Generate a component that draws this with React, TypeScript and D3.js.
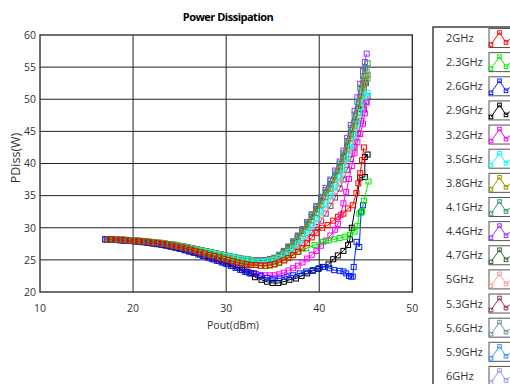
import React from 'react';
import * as d3 from 'd3';

const TITLE = 'Power Dissipation';
const X_LABEL = 'Pout(dBm)';
const Y_LABEL = 'PDiss(W)';
const X_TICKS = [10, 20, 30, 40, 50];
const Y_TICKS = [20, 25, 30, 35, 40, 45, 50, 55, 60];

const SERIES_NAMES = ['2GHz', '2.3GHz', '2.6GHz', '2.9GHz', '3.2GHz', '3.5GHz', '3.8GHz', '4.1GHz', '4.4GHz', '4.7GHz', '5GHz', '5.3GHz', '5.6GHz', '5.9GHz', '6GHz'];
const SERIES_COLORS = ['#ff0000', '#00ee00', '#0022ff', '#000000', '#ff00ff', '#00ffff', '#999900', '#339966', '#9933ff', '#336633', '#ff9999', '#993366', '#669999', '#3399ff', '#9999ff'];

// Shared low-power Pout sweeps (dBm)
const LOW_X_A = [17.0, 17.5, 18.0, 18.5, 19.0, 19.5, 20.0, 20.5, 21.0, 21.5, 22.0, 22.5, 23.0, 23.5, 24.0, 24.5, 25.0, 25.5, 26.0, 26.5, 27.0, 27.5, 28.0, 28.5, 29.0, 29.5, 30.0, 30.5, 31.0, 31.5, 32.0, 32.5];
const LOW_X_B = [17.2, 17.7, 18.2, 18.7, 19.2, 19.7, 20.2, 20.7, 21.2, 21.7, 22.2, 22.7, 23.2, 23.7, 24.2, 24.7, 25.2, 25.7, 26.2, 26.7, 27.2, 27.7, 28.2, 28.7, 29.2, 29.7, 30.2, 30.7, 31.2, 31.7, 32.2, 32.7];
const LOW_X_C = [17.4, 17.9, 18.4, 18.9, 19.4, 19.9, 20.4, 20.9, 21.4, 21.9, 22.4, 22.9, 23.4, 23.9, 24.4, 24.9, 25.4, 25.9, 26.4, 26.9, 27.4, 27.9, 28.4, 28.9, 29.4, 29.9, 30.4, 30.9, 31.4, 31.9, 32.4, 32.9];

// Low-power Pdiss (W)
const LOW_UP = [28.2, 28.2, 28.15, 28.15, 28.1, 28.05, 28.0, 27.95, 27.9, 27.8, 27.75, 27.65, 27.55, 27.45, 27.35, 27.2, 27.1, 26.95, 26.8, 26.65, 26.5, 26.35, 26.2, 26.05, 25.9, 25.75, 25.6, 25.45, 25.3, 25.15, 25.05, 24.95];
const LOW_MID = [28.2, 28.2, 28.15, 28.1, 28.05, 28.0, 27.95, 27.9, 27.85, 27.75, 27.7, 27.6, 27.5, 27.4, 27.25, 27.1, 26.95, 26.8, 26.6, 26.4, 26.2, 26.0, 25.8, 25.6, 25.4, 25.2, 25.0, 24.8, 24.6, 24.45, 24.3, 24.2];
const LOW_DEEP = [28.2, 28.15, 28.1, 28.05, 28.0, 27.95, 27.9, 27.85, 27.75, 27.65, 27.55, 27.45, 27.35, 27.2, 27.05, 26.9, 26.7, 26.5, 26.3, 26.1, 25.85, 25.6, 25.35, 25.1, 24.85, 24.6, 24.35, 24.05, 23.75, 23.45, 23.15, 22.9];

// High-power tails per frequency
const T2_0_X = [33.2, 33.7, 34.2, 34.7, 35.2, 35.7, 36.2, 36.7, 37.2, 37.7, 38.2, 38.7, 39.2, 39.7, 40.3, 40.9, 41.5, 42.0, 42.6, 43.1, 43.6, 44.0, 44.2, 44.4, 44.6, 44.8];
const T2_0_Y = [24.2, 24.1, 24.1, 24.2, 24.35, 24.6, 24.9, 25.3, 25.75, 26.25, 26.8, 27.6, 28.5, 29.2, 30.0, 30.4, 31.1, 31.7, 32.2, 33.0, 33.5, 35.4, 36.9, 38.5, 40.5, 42.5];
const T2_3_X = [33.2, 33.7, 34.2, 34.7, 35.2, 35.7, 36.3, 37.0, 37.8, 38.6, 39.5, 40.4, 41.0, 41.6, 42.2, 42.8, 43.3, 43.8, 44.1, 44.3, 44.6, 44.8, 45.3];
const T2_3_Y = [24.2, 24.05, 24.0, 24.1, 24.25, 24.5, 25.0, 25.7, 26.3, 26.8, 27.3, 27.8, 28.0, 28.2, 28.4, 28.6, 28.9, 29.4, 30.3, 32.2, 32.6, 34.2, 37.2];
const T2_6_X = [33.0, 33.7, 34.4, 35.0, 35.75, 36.5, 37.2, 37.9, 38.6, 39.3, 40.0, 40.6, 41.1, 41.6, 42.2, 42.6, 42.9, 43.2, 43.4, 43.6, 43.7, 44.0, 44.3, 44.5, 44.7];
const T2_6_Y = [22.9, 22.5, 22.2, 22.0, 22.1, 22.4, 22.6, 22.9, 23.2, 23.4, 23.7, 23.9, 23.7, 23.4, 23.3, 23.2, 22.9, 22.5, 22.4, 22.4, 23.9, 27.8, 27.0, 32.4, 33.5];
const T2_9_X = [33.1, 33.8, 34.4, 35.0, 35.6, 36.2, 36.8, 37.5, 38.1, 38.7, 39.3, 39.9, 40.4, 41.0, 41.5, 42.0, 42.6, 43.1, 43.3, 43.5, 44.4, 44.9, 44.9, 45.2];
const T2_9_Y = [22.3, 21.9, 21.6, 21.4, 21.4, 21.6, 21.9, 22.1, 22.5, 22.9, 23.3, 23.6, 23.9, 24.3, 25.1, 25.7, 26.4, 27.3, 28.2, 30.0, 37.8, 37.9, 41.0, 41.4];
const T3_2_X = [33.2, 33.7, 34.2, 34.7, 35.2, 35.7, 36.2, 36.7, 37.2, 37.7, 38.2, 38.7, 39.2, 39.7, 40.2, 40.7, 41.2, 41.7, 42.0, 42.3, 42.6, 42.9, 43.2, 43.5, 43.8, 44.1, 44.4, 44.7, 44.9, 45.1];
const T3_2_Y = [22.8, 22.65, 22.6, 22.6, 22.6, 22.75, 23.0, 23.35, 23.7, 24.1, 24.6, 25.2, 25.8, 26.4, 27.2, 28.0, 28.8, 29.7, 30.6, 32.0, 33.8, 35.6, 37.6, 39.6, 41.6, 43.3, 44.6, 46.2, 47.8, 49.5];
const T3_5_X = [33.2, 33.7, 34.2, 34.7, 35.2, 35.7, 36.2, 36.7, 37.2, 37.7, 38.2, 38.7, 39.2, 39.7, 40.2, 40.7, 41.2, 41.7, 42.2, 42.6, 43.0, 43.4, 43.8, 44.2, 44.5, 44.8, 45.0, 45.2];
const T3_5_Y = [24.7, 24.7, 24.75, 24.85, 25.0, 25.3, 25.7, 26.2, 26.8, 27.5, 28.3, 29.2, 30.2, 31.3, 32.4, 33.6, 34.9, 36.3, 37.8, 39.2, 40.8, 42.5, 44.3, 46.2, 48.0, 49.6, 50.5, 51.0];
const T3_8_X = [33.2, 33.7, 34.2, 34.7, 35.2, 35.7, 36.2, 36.7, 37.2, 37.7, 38.2, 38.7, 39.2, 39.7, 40.2, 40.7, 41.2, 41.7, 42.2, 42.6, 43.0, 43.4, 43.8, 44.2, 44.5, 44.8, 45.0, 45.2];
const T3_8_Y = [24.8, 24.8, 24.85, 24.95, 25.15, 25.5, 26.0, 26.6, 27.3, 28.1, 29.0, 30.0, 31.1, 32.3, 33.5, 34.8, 36.1, 37.5, 39.0, 40.5, 42.2, 44.0, 45.9, 48.0, 50.0, 51.8, 53.0, 53.8];
const T4_1_X = [33.2, 33.7, 34.2, 34.7, 35.2, 35.7, 36.2, 36.7, 37.2, 37.7, 38.2, 38.7, 39.2, 39.7, 40.2, 40.7, 41.2, 41.7, 42.2, 42.6, 43.0, 43.4, 43.8, 44.1, 44.4, 44.7, 44.9, 45.2];
const T4_1_Y = [24.85, 24.85, 24.9, 25.05, 25.3, 25.75, 26.3, 27.0, 27.8, 28.7, 29.7, 30.8, 32.0, 33.2, 34.6, 35.9, 37.3, 38.6, 40.0, 41.6, 43.5, 45.5, 47.6, 49.6, 51.7, 53.6, 54.8, 55.6];
const T4_4_X = [33.2, 33.7, 34.2, 34.7, 35.2, 35.7, 36.2, 36.7, 37.2, 37.7, 38.2, 38.7, 39.2, 39.7, 40.2, 40.7, 41.2, 41.7, 42.2, 42.6, 43.0, 43.4, 43.8, 44.1, 44.4, 44.7, 44.9, 45.1];
const T4_4_Y = [24.9, 24.9, 24.95, 25.1, 25.3, 25.8, 26.4, 27.1, 27.9, 28.8, 29.8, 30.9, 32.1, 33.4, 34.8, 36.2, 37.5, 38.9, 40.3, 42.0, 44.0, 46.0, 48.2, 50.3, 52.4, 54.4, 55.8, 57.1];
const T4_7_X = [33.2, 33.7, 34.2, 34.7, 35.2, 35.7, 36.2, 36.7, 37.2, 37.7, 38.2, 38.7, 39.2, 39.7, 40.2, 40.7, 41.2, 41.7, 42.2, 42.6, 43.0, 43.4, 43.8, 44.2, 44.5, 44.8, 45.0];
const T4_7_Y = [24.8, 24.8, 24.85, 25.0, 25.25, 25.65, 26.2, 26.85, 27.6, 28.5, 29.5, 30.5, 31.7, 32.9, 34.2, 35.5, 36.8, 38.1, 39.5, 41.0, 42.8, 44.6, 46.5, 48.5, 50.4, 51.8, 52.5];
const T5_0_X = [33.2, 33.7, 34.2, 34.7, 35.2, 35.7, 36.2, 36.7, 37.2, 37.7, 38.2, 38.7, 39.2, 39.7, 40.2, 40.7, 41.2, 41.7, 42.2, 42.6, 43.0, 43.4, 43.8, 44.2, 44.5, 44.8, 45.0];
const T5_0_Y = [24.6, 24.6, 24.65, 24.75, 24.9, 25.2, 25.55, 26.0, 26.55, 27.2, 27.95, 28.8, 29.7, 30.7, 31.8, 33.0, 34.3, 35.7, 37.2, 38.6, 40.2, 41.9, 43.8, 45.9, 47.8, 49.5, 50.6];
const T5_3_X = [33.2, 33.7, 34.2, 34.7, 35.2, 35.7, 36.2, 36.7, 37.2, 37.7, 38.2, 38.7, 39.2, 39.7, 40.2, 40.7, 41.2, 41.7, 42.2, 42.6, 43.0, 43.4, 43.8, 44.2, 44.5, 44.8, 45.0, 45.2];
const T5_3_Y = [24.55, 24.55, 24.6, 24.7, 24.85, 25.1, 25.45, 25.85, 26.35, 26.95, 27.6, 28.35, 29.2, 30.1, 31.1, 32.2, 33.4, 34.7, 36.1, 37.5, 39.0, 40.7, 42.6, 44.7, 46.6, 48.4, 49.6, 50.5];
const T5_6_X = [33.2, 33.7, 34.2, 34.7, 35.2, 35.7, 36.2, 36.7, 37.2, 37.7, 38.2, 38.7, 39.2, 39.7, 40.2, 40.7, 41.2, 41.7, 42.2, 42.6, 43.0, 43.4, 43.8, 44.2, 44.5, 44.8, 45.0, 45.1];
const T5_6_Y = [24.9, 24.9, 24.95, 25.1, 25.35, 25.75, 26.3, 26.95, 27.7, 28.55, 29.5, 30.55, 31.7, 32.9, 34.1, 35.4, 36.7, 38.0, 39.4, 40.9, 42.6, 44.4, 46.4, 48.6, 50.6, 52.5, 53.6, 54.3];
const T5_9_X = [33.2, 33.7, 34.2, 34.7, 35.2, 35.7, 36.2, 36.7, 37.2, 37.7, 38.2, 38.7, 39.2, 39.7, 40.2, 40.7, 41.2, 41.7, 42.2, 42.6, 43.0, 43.4, 43.8, 44.2, 44.5, 44.8, 45.0, 45.2];
const T5_9_Y = [24.85, 24.85, 24.9, 25.0, 25.2, 25.55, 26.05, 26.65, 27.35, 28.15, 29.05, 30.05, 31.1, 32.25, 33.45, 34.7, 36.0, 37.4, 38.8, 40.3, 42.0, 43.8, 45.8, 47.9, 49.8, 51.5, 52.6, 53.2];
const T6_0_X = [33.2, 33.7, 34.2, 34.7, 35.2, 35.7, 36.2, 36.7, 37.2, 37.7, 38.2, 38.7, 39.2, 39.7, 40.2, 40.7, 41.2, 41.7, 42.2, 42.6, 43.0, 43.4, 43.8, 44.2, 44.5, 44.8, 45.0];
const T6_0_Y = [24.9, 24.9, 24.95, 25.05, 25.25, 25.6, 26.1, 26.7, 27.4, 28.2, 29.1, 30.1, 31.2, 32.4, 33.6, 34.9, 36.3, 37.7, 39.2, 40.7, 42.4, 44.3, 46.3, 48.4, 50.3, 51.8, 52.8];

const SERIES_X = [
  [...LOW_X_B, ...T2_0_X], [...LOW_X_C, ...T2_3_X], [...LOW_X_A, ...T2_6_X], [...LOW_X_B, ...T2_9_X],
  [...LOW_X_C, ...T3_2_X], [...LOW_X_A, ...T3_5_X], [...LOW_X_B, ...T3_8_X], [...LOW_X_C, ...T4_1_X],
  [...LOW_X_A, ...T4_4_X], [...LOW_X_B, ...T4_7_X], [...LOW_X_C, ...T5_0_X], [...LOW_X_A, ...T5_3_X],
  [...LOW_X_B, ...T5_6_X], [...LOW_X_C, ...T5_9_X], [...LOW_X_A, ...T6_0_X],
];
const SERIES_Y = [
  [...LOW_MID, ...T2_0_Y], [...LOW_MID, ...T2_3_Y], [...LOW_DEEP, ...T2_6_Y], [...LOW_DEEP, ...T2_9_Y],
  [...LOW_DEEP, ...T3_2_Y], [...LOW_UP, ...T3_5_Y], [...LOW_UP, ...T3_8_Y], [...LOW_UP, ...T4_1_Y],
  [...LOW_UP, ...T4_4_Y], [...LOW_UP, ...T4_7_Y], [...LOW_UP, ...T5_0_Y], [...LOW_MID, ...T5_3_Y],
  [...LOW_UP, ...T5_6_Y], [...LOW_UP, ...T5_9_Y], [...LOW_UP, ...T6_0_Y],
];

const W = 510;
const H = 384;
const FONT = "'Open Sans', 'DejaVu Sans', sans-serif";

export default function App() {
  const x = d3.scaleLinear().domain([10, 50]).range([40, 412.3]);
  const y = d3.scaleLinear().domain([20, 60]).range([292, 35]);
  const line = d3.line<[number, number]>().x((d) => x(d[0])).y((d) => y(d[1]));

  const series = SERIES_NAMES.map((name, i) => ({
    name,
    color: SERIES_COLORS[i],
    pts: SERIES_X[i].map((v, j) => [v, SERIES_Y[i][j]] as [number, number]),
  }));
  const drawOrder = [...series].reverse();

  const legendTop = 38;
  const legendStep = 24.14;

  return (
    <div style={{ position: 'fixed', left: 0, top: 0, width: W, height: H, background: '#fff' }}>
      <svg width={W} height={H} style={{ display: 'block' }}>
        <rect x={0} y={0} width={W} height={H} fill="#fff" />
        <text x={228} y={20.5} textAnchor="middle" fontFamily={FONT} fontWeight="bold" fontSize={11} letterSpacing={-0.5} fill="#000">{TITLE}</text>
        <rect x={x(10)} y={y(60)} width={x(50) - x(10)} height={y(20) - y(60)} fill="#fff" />
        {X_TICKS.slice(1, -1).map((t) => (
          <line key={'gx' + t} x1={x(t)} x2={x(t)} y1={y(60)} y2={y(20)} stroke="#222" strokeWidth={1} />
        ))}
        {Y_TICKS.slice(1, -1).map((t) => (
          <line key={'gy' + t} x1={x(10)} x2={x(50)} y1={y(t)} y2={y(t)} stroke="#222" strokeWidth={1} />
        ))}
        <rect x={x(10)} y={y(60)} width={x(50) - x(10)} height={y(20) - y(60)} fill="none" stroke="#333" strokeWidth={1.4} />
        {X_TICKS.map((t) => (
          <text key={'tx' + t} x={x(t)} y={311.5} textAnchor="middle" fontFamily={FONT} fontSize={10.5} fill="#333">{t}</text>
        ))}
        {Y_TICKS.map((t) => (
          <text key={'ty' + t} x={36} y={y(t) + 3.8} textAnchor="end" fontFamily={FONT} fontSize={10.5} fill="#333">{t}</text>
        ))}
        <text x={233} y={329} textAnchor="middle" fontFamily={FONT} fontSize={10.5} fill="#333">{X_LABEL}</text>
        <text transform="translate(20,158) rotate(-90)" textAnchor="middle" fontFamily={FONT} fontSize={12.5} fill="#333">{Y_LABEL}</text>
        <g>
          {drawOrder.map((s) => (
            <g key={s.name}>
              <path d={line(s.pts) || ''} fill="none" stroke={s.color} strokeWidth={1} />
              {s.pts.map((p, j) => (
                <rect key={j} x={x(p[0]) - 2.5} y={y(p[1]) - 2.5} width={5} height={5} fill="none" stroke={s.color} strokeWidth={1} />
              ))}
            </g>
          ))}
        </g>
        <rect x={433} y={27} width={120} height={400} fill="#fff" stroke="#333" strokeWidth={1.4} />
        {series.map((s, i) => {
          const cy = legendTop + i * legendStep;
          const ix = 489;
          const iy = cy - 9.5;
          const icon: [number, number][] = [[ix + 2, iy + 16], [ix + 10.5, iy + 4], [ix + 17, iy + 14], [ix + 24, iy + 8]];
          return (
            <g key={'lg' + s.name}>
              <text x={446} y={cy + 4} fontFamily={FONT} fontSize={11} fill="#333">{s.name}</text>
              <rect x={ix} y={iy} width={30} height={19} fill="#fff" stroke="#555" strokeWidth={1} />
              <polyline points={icon.map((p) => p.join(',')).join(' ')} fill="none" stroke={s.color} strokeWidth={1} />
              {icon.slice(0, 3).map((p, k) => (
                <rect key={k} x={p[0] - 1.8} y={p[1] - 1.8} width={3.6} height={3.6} fill="none" stroke={s.color} strokeWidth={1} />
              ))}
            </g>
          );
        })}
      </svg>
    </div>
  );
}
